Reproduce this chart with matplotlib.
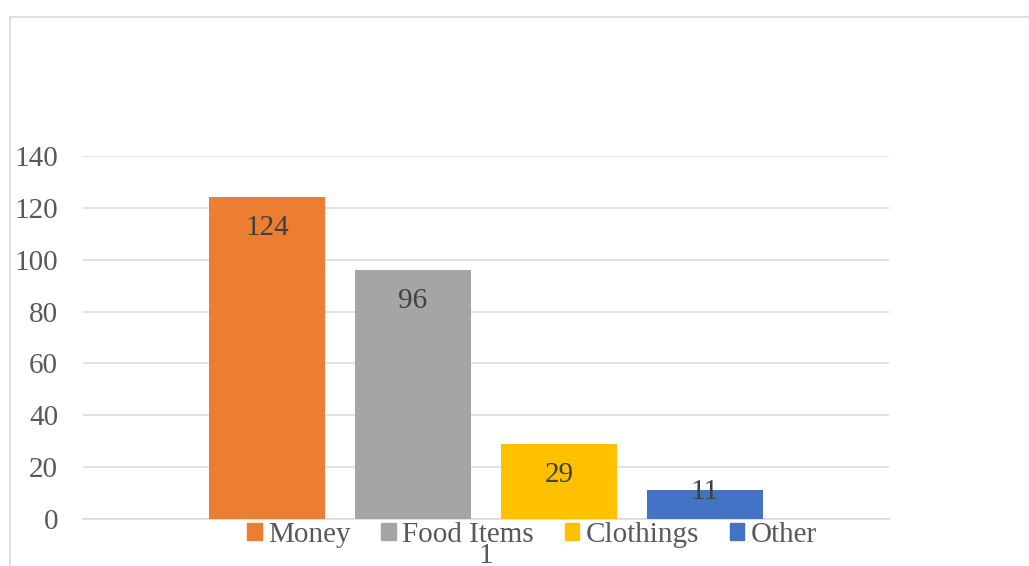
import matplotlib
matplotlib.use("Agg")
import matplotlib.pyplot as plt
from matplotlib.patches import Patch, Rectangle

# data
series = ["Money", "Food Items", "Clothings", "Other"]
values = [124, 96, 29, 11]
colors = ["#ED7D31", "#A5A5A5", "#FFC000", "#4472C4"]
category = "1"
yticks = [0, 20, 40, 60, 80, 100, 120, 140]

plt.rcParams["font.family"] = ["Liberation Serif", "DejaVu Serif"]

fig = plt.figure(figsize=(10.29, 5.66), dpi=100)
ax = fig.add_axes([83 / 1029, 1 - 519 / 566, (889 - 83) / 1029, (519 - 156) / 566])

width = 0.144
step = 0.181
for i, (name, v, c) in enumerate(zip(series, values, colors)):
    x = 1 + (i - 1.5) * step
    ax.bar(x, v, width=width, color=c, zorder=3)
    off = -31 if v > 20 else -2
    ax.annotate(str(v), (x, v), xytext=(0, off * 0.72), textcoords="offset points",
                ha="center", va="center", fontsize=21, color="#404040", zorder=4)

ax.set_xlim(0.5, 1.5)
ax.set_ylim(0, 140)
ax.set_yticks(yticks)
ax.set_xticks([1])
ax.set_xticklabels([category])
ax.grid(axis="y", color="#D9D9D9", linewidth=1.1, zorder=0)
for s in ["top", "right", "left"]:
    ax.spines[s].set_visible(False)
ax.spines["bottom"].set_color("#D9D9D9")
ax.spines["bottom"].set_linewidth(1.1)
ax.tick_params(axis="both", length=0, labelsize=21, colors="#595959")
ax.tick_params(axis="y", pad=18)
ax.tick_params(axis="x", pad=17)

handles = [Patch(color=c, label=n) for n, c in zip(series, colors)]
fig.legend(handles=handles, loc="center", bbox_to_anchor=(532 / 1029, 1 - 535 / 566),
           ncol=4, frameon=False, fontsize=21, handlelength=0.5, handleheight=0.5,
           handletextpad=0.22, columnspacing=1.05, labelcolor="#595959",
           borderpad=0, borderaxespad=0)

fig.patches.append(Rectangle((10 / 1029, -0.2), 1.2, 1.2 - 16.5 / 566, transform=fig.transFigure,
                             fill=False, edgecolor="#D9D9D9", linewidth=1.2))

fig.savefig("out.png", dpi=100)
